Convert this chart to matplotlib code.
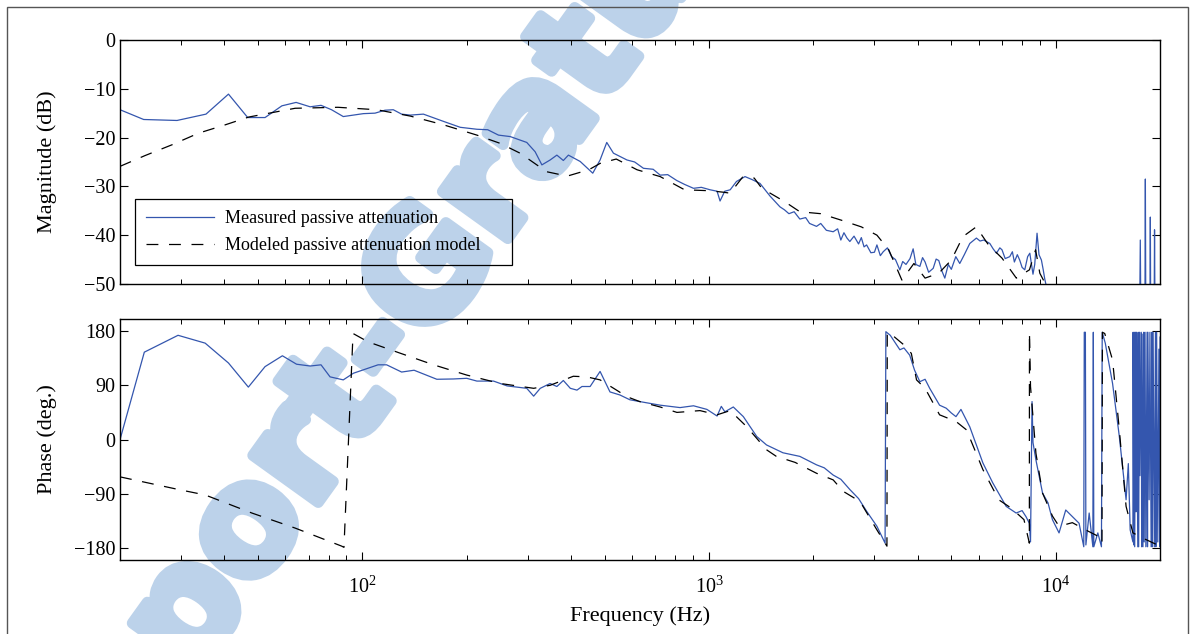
import numpy as np
import matplotlib
matplotlib.use("Agg")
import matplotlib.pyplot as plt
import matplotlib.ticker as mticker
import matplotlib.patheffects as pe
from matplotlib.patches import Rectangle

plt.rcParams.update({
    'font.family': 'Liberation Serif',
    'mathtext.fontset': 'custom',
    'mathtext.rm': 'Liberation Serif',
    'font.size': 14.5,
    'axes.labelsize': 16,
    'xtick.labelsize': 14.5,
    'ytick.labelsize': 14.5,
    'legend.fontsize': 13,
})

# measured magnitude (Hz, dB)
mag_f = [20, 23.4, 29.2, 35.4, 41.1, 46.7, 52.4, 58.6, 64.4, 70.7,
         76, 81.5, 88.1, 100.7, 108.8, 116.2, 122.8, 129.8, 137.5, 150,
         171.6, 191.6, 214, 230, 247, 267, 298, 315, 329.5, 348,
         364, 380, 393, 425, 462, 485, 507, 530, 580, 610,
         647, 690, 723, 760, 807, 850, 902, 950, 1007, 1055,
         1076, 1110, 1151, 1200, 1270, 1330, 1403, 1500, 1602, 1650,
         1700, 1760, 1828, 1900, 1950, 2042, 2100, 2180, 2281, 2350,
         2400, 2450, 2500, 2548, 2620, 2700, 2750, 2800, 2848, 2930,
         3000, 3050, 3120, 3180, 3270, 3362, 3450, 3552, 3620, 3700,
         3800, 3880, 3950, 4057, 4130, 4200, 4300, 4432, 4520, 4600,
         4700, 4788, 4900, 5000, 5150, 5288, 5450, 5652, 5906, 6050,
         6200, 6456, 6600, 6747, 6900, 7000, 7150, 7370, 7500, 7600,
         7750, 7873, 8000, 8143, 8300, 8421, 8600, 8700, 8835, 8950,
         9095, 9200, 9300, 9500, 10000, 17450, 17540, 17620, 18080, 18140,
         18200, 18700, 18750, 18800, 19220, 19280, 19350, 20000]
mag_db = [-14.3, -16.3, -16.5, -15.2, -11.1, -15.9, -15.9, -13.5, -12.8, -13.7,
          -13.4, -14.3, -15.7, -15.1, -15.0, -14.4, -14.3, -15.2, -15.4, -15.2,
          -16.7, -17.9, -18.3, -18.4, -19.5, -19.8, -21.0, -22.9, -25.6, -24.6,
          -23.6, -24.7, -23.6, -24.9, -27.3, -24.6, -21.0, -23.2, -24.6, -25.0,
          -26.3, -26.5, -27.7, -27.6, -28.8, -29.6, -30.4, -30.2, -30.7, -31.0,
          -33.0, -31.0, -30.7, -29.0, -28.0, -28.6, -29.4, -32.0, -34.2, -34.8,
          -35.6, -35.2, -36.7, -36.4, -37.6, -38.2, -37.6, -39.0, -39.3, -38.7,
          -41.0, -39.5, -40.6, -41.3, -40.2, -41.8, -40.5, -42.4, -42.0, -43.6,
          -43.5, -42.0, -44.2, -43.4, -42.6, -44.4, -45.0, -47.1, -45.4, -46.0,
          -44.8, -42.8, -46.0, -46.4, -44.6, -45.5, -47.6, -46.8, -44.9, -45.2,
          -47.4, -48.8, -46.0, -47.0, -44.4, -45.8, -44.0, -41.7, -40.6, -41.2,
          -41.0, -41.7, -42.8, -43.7, -42.6, -43.0, -44.8, -44.4, -43.4, -45.5,
          -44.0, -45.1, -46.6, -47.1, -44.4, -43.7, -48.0, -46.0, -39.6, -44.0,
          -45.1, -47.0, -49.0, -52.0, -60.0, -60.0, -41.0, -60.0, -60.0, -28.5,
          -60.0, -60.0, -36.3, -60.0, -60.0, -38.9, -60.0, -60.0]

# modeled magnitude (Hz, dB)
mod_f = [20, 23.6, 28.2, 33.7, 40.2, 47, 64, 85, 110, 137.5,
         171.6, 214, 250, 285, 340, 390, 450, 485, 540, 620,
         723, 850, 1007, 1100, 1151, 1250, 1350, 1420, 1650, 1828,
         2100, 2400, 2750, 3050, 3300, 3600, 3900, 4200, 4600, 5000,
         5400, 5900, 6400, 7000, 7700, 8400, 8750, 9000, 9500, 10000,
         20000]
mod_db = [-25.9, -23.7, -21.5, -19.1, -17.4, -15.8, -14.0, -13.8, -14.3, -15.6,
          -17.4, -19.5, -21.2, -23.2, -27.0, -27.9, -26.6, -25.3, -24.4, -26.6,
          -28.0, -30.7, -30.9, -31.2, -31.4, -28.1, -28.3, -30.4, -33.1, -35.2,
          -35.6, -36.9, -38.3, -40.0, -43.0, -49.2, -45.8, -48.8, -47.8, -45.1,
          -40.3, -38.3, -42.0, -44.7, -48.8, -47.1, -43.0, -47.8, -51.0, -58.0,
          -65.0]

# measured phase (Hz, deg)
ph_f = [20, 23.5, 29.4, 35.2, 41.1, 46.9, 52.4, 58.8, 64.6, 70.7,
        76, 80.7, 88.1, 94.2, 111, 117.5, 129.8, 141, 164, 183,
        200, 214, 239, 261.5, 298, 312, 326, 348, 364, 380,
        398, 416, 430, 454, 485, 518, 553, 591, 631, 723,
        825, 902, 986, 1055, 1085, 1111, 1175, 1256, 1373, 1465,
        1634, 1828, 2042, 2150, 2281, 2400, 2548, 2700, 2848, 3050,
        3220, 3237, 3333, 3450, 3552, 3650, 3792, 3917, 4057, 4200,
        4331, 4624, 4832, 5000, 5156, 5330, 5652, 6167, 6584, 7197,
        7689, 8000, 8209, 8395, 8460, 8546, 8600, 8770, 9165, 9500,
        9786, 10225, 10690, 11170, 11680, 12050, 12090, 12180, 12220, 12490,
        12800, 12840, 12880, 13230, 13550, 13620, 13900, 14590, 15260, 15960,
        16200, 16400, 16700, 16720, 16800, 16850, 16900, 17000, 17050, 17100,
        17250, 17300, 17350, 17450, 17500, 17650, 17700, 17750, 17850, 17950,
        18000, 18100, 18200, 18350, 18400, 18450, 18600, 18700, 18850, 18950,
        19000, 19100, 19250, 19400, 19450, 19550, 19700, 19850, 19950, 20000]
ph_deg = [0, 145, 173, 160, 127, 87, 121, 139, 125, 122,
          124, 104, 99, 110, 124, 124, 112, 115, 100, 100.5,
          101.6, 97, 97, 89, 85, 72, 85, 93, 88, 98,
          85, 82, 88, 88, 113, 79, 74, 66, 63, 57,
          53, 56, 50, 39, 55, 46, 54, 38, 5, -9,
          -22, -28, -42, -47, -59, -66, -83, -98, -119, -144,
          -172, 179, 173, 160, 149, 152, 140, 115, 96, 100,
          85, 57, 52, 44, 38, 50, 21, -39, -72, -111,
          -122, -118, -128, -139, -170, 63, -5, -34, -89, -105,
          -133, -155, -117, -128, -139, -178, 178, 178, -175, -122,
          -178, 178, -178, -155, -178, 178, 160, 93, 5, -100,
          -40, -150, -170, 178, -175, 178, -178, 178, -120, 178,
          -178, 178, -178, 178, -60, 178, -178, 175, -178, 178,
          -170, 178, -178, 178, -178, 178, -100, 178, -178, 178,
          -178, 178, -178, 178, -178, 178, -170, 150, -178, 170]

# modeled phase (Hz, deg)
mph_f = [20, 29.5, 35.2, 48, 64, 87.2, 88.5, 94, 104, 129,
         160.5, 200, 250, 312, 348, 406, 444, 485, 541, 580,
         631, 723, 808, 942, 1055, 1151, 1286, 1465, 1564, 1772,
         2042, 2281, 2438, 2728, 3050, 3260, 3267, 3414, 3650, 3833,
         3968, 4200, 4624, 5156, 5530, 6167, 6850, 7450, 8100, 8395,
         8400, 8460, 8770, 9165, 9786, 10225, 11170, 12200, 13300, 13600,
         13640, 13850, 14590, 15260, 15960, 16700, 18200, 20000]
mph_deg = [-62, -83, -92, -122, -147, -177, -179, 176, 162, 143,
           124, 107, 93, 85, 90, 105, 104, 99, 82, 71,
           63, 54, 45, 48, 41, 48, 21, -17, -28, -38,
           -56, -67, -86, -103, -150, -177, 178, 171, 157, 143,
           99, 85, 41, 30, 16, -50, -100, -114, -133, -172,
           178, 88, -23, -89, -127, -144, -138, -150, -161, -172,
           178, 176, 132, 16, -111, -155, -166, -177]

blue = '#3456ae'
wm_color = '#bcd2ea'
dash = (0, (9.5, 8.5))

fig = plt.figure(figsize=(11.92, 6.34), dpi=100)

# watermark behind everything
fig.text(-0.0235, -0.443, 'Rapport-Gratuit.com', rotation=54.3, rotation_mode='anchor',
         ha='left', va='center', fontsize=106, fontweight='bold', family='DejaVu Sans',
         color=wm_color, zorder=-5,
         path_effects=[pe.withStroke(linewidth=8, foreground=wm_color)])

# outer frame
fig.patches.append(Rectangle((7 / 1192, -0.05), 1181 / 1192, 1 - 7 / 634 + 0.05,
                             transform=fig.transFigure, fill=False,
                             edgecolor='#555555', linewidth=1.0, zorder=-4))

ax1 = fig.add_axes([0.1007, 0.5521, 0.8725, 0.3849])
ax2 = fig.add_axes([0.1007, 0.1167, 0.8725, 0.3801])

ax1.plot(mag_f, mag_db, color=blue, lw=0.9, label='Measured passive attenuation')
ax1.plot(mod_f, mod_db, color='black', lw=0.9, linestyle=dash,
         label='Modeled passive attenuation model')
ax2.plot(ph_f, ph_deg, color=blue, lw=0.9)
ax2.plot(mph_f, mph_deg, color='black', lw=0.9, linestyle=dash)

for ax in (ax1, ax2):
    ax.set_facecolor('none')
    ax.set_xscale('log')
    ax.set_xlim(20, 20000)
    ax.xaxis.set_major_locator(mticker.LogLocator(base=10))
    ax.xaxis.set_minor_locator(mticker.LogLocator(base=10, subs=np.arange(2, 10)))
    ax.xaxis.set_minor_formatter(mticker.NullFormatter())
    ax.tick_params(which='both', direction='in', top=True, right=True)
    ax.tick_params(which='major', length=6, width=0.8)
    ax.tick_params(which='minor', length=3.5, width=0.7)
    for s in ax.spines.values():
        s.set_linewidth(1.0)

ax1.set_ylim(-50, 0)
ax1.set_yticks([-50, -40, -30, -20, -10, 0])
ax1.xaxis.set_major_formatter(mticker.NullFormatter())
ax1.set_ylabel('Magnitude (dB)')
ax1.yaxis.set_label_coords(-0.061, 0.5)

ax2.set_ylim(-200, 200)
ax2.set_yticks([-180, -90, 0, 90, 180])
ax2.tick_params(axis='x', which='major', pad=12)
ax2.set_ylabel('Phase (deg.)')
ax2.yaxis.set_label_coords(-0.061, 0.5)
ax2.set_xlabel('Frequency (Hz)', labelpad=6)

leg = ax1.legend(loc='lower left', bbox_to_anchor=(0.0144, 0.078), borderaxespad=0,
                 handlelength=3.8, labelspacing=0.55, fancybox=False,
                 borderpad=0.6, handletextpad=0.6)
leg.get_frame().set_visible(False)

# legend frame drawn a bit wider on the right, as in the source figure
fig.canvas.draw()
bb = leg.get_window_extent()
fig.patches.append(Rectangle((bb.x0, bb.y0), 512 - 135, bb.height,
                             transform=None, fill=False, edgecolor='black',
                             linewidth=0.9, zorder=5))

fig.savefig('out.png', dpi=100)
